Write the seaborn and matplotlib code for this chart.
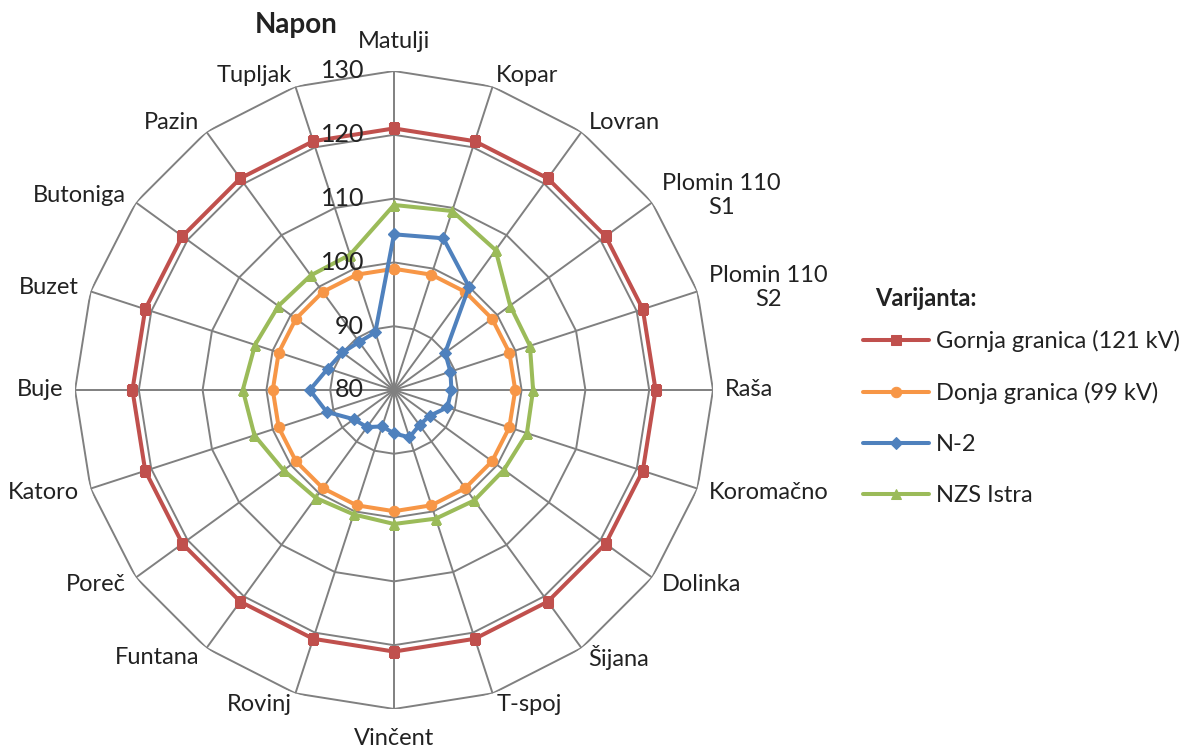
import numpy as np
import pandas as pd
import matplotlib
matplotlib.use("Agg")
import matplotlib.pyplot as plt
import seaborn as sns

categories = ["Matulji", "Kopar", "Lovran", "Plomin 110\nS1", "Plomin 110\nS2", "Raša",
              "Koromačno", "Dolinka", "Šijana", "T-spoj", "Vinčent", "Rovinj", "Funtana",
              "Poreč", "Katoro", "Buje", "Buzet", "Butoniga", "Pazin", "Tupljak"]
gornja = [121, 121, 121, 121, 121, 121, 121, 121, 121, 121,
          121, 121, 121, 121, 121, 121, 121, 121, 121, 121]
donja = [99, 99, 99, 99, 99, 99, 99, 99, 99, 99,
         99, 99, 99, 99, 99, 99, 99, 99, 99, 99]
n2 = [104.4, 105.0, 100.0, 89.9, 89.3, 89.0, 88.8, 86.9, 86.8, 87.8,
      86.8, 86.0, 87.2, 87.8, 91.1, 93.2, 90.9, 90.0, 89.3, 89.5]
nzs = [109.0, 109.5, 107.1, 102.5, 102.4, 101.8, 101.9, 101.3, 101.4, 101.2,
       101.0, 100.5, 100.9, 101.4, 103.0, 103.7, 102.9, 102.4, 102.2, 102.3]
series_names = ["Gornja granica (121 kV)", "Donja granica (99 kV)", "N-2", "NZS Istra"]
radial_ticks = [80, 90, 100, 110, 120, 130]

sns.set_theme(style="white")
plt.rcParams['font.family'] = ['Lato', 'DejaVu Sans']

fig = plt.figure(figsize=(11.91, 7.47), dpi=100)
ax = fig.add_axes([0.06297, 0.05087, 0.5357, 0.8541], projection='polar')
ax.set_theta_zero_location('N')
ax.set_theta_direction(-1)
n = len(categories)
theta = np.arange(n) * 2 * np.pi / n
theta_c = np.append(theta, 2 * np.pi)
ax.set_ylim(radial_ticks[0], radial_ticks[-1])
ax.set_xticks(theta)
ax.set_xticklabels([])
ax.set_yticks([])
grid_col = '#808080'
ax.xaxis.grid(True, color=grid_col, lw=1.4)
ax.spines['polar'].set_visible(False)
for v in radial_ticks[1:]:
    ax.plot(theta_c, [v] * (n + 1), color=grid_col, lw=1.4, zorder=1)

styles = [("#C0504D", "s", 7.5), ("#F79646", "o", 7.5), ("#4F81BD", "D", 6), ("#9BBB59", "^", 7.5)]
for name, vals, (c, m, ms) in zip(series_names, [gornja, donja, n2, nzs], styles):
    df = pd.DataFrame({"theta": theta_c, "v": list(vals) + [vals[0]]})
    sns.lineplot(data=df, x="theta", y="v", sort=False, estimator=None, color=c,
                 marker=m, markersize=ms, markeredgecolor=c, linewidth=2.9,
                 label=name, ax=ax, zorder=3)
ax.set_xlabel('')
ax.set_ylabel('')
handles, labels = ax.get_legend_handles_labels()
if ax.get_legend() is not None:
    ax.get_legend().remove()

txt_col = '#222222'
for t, lab in zip(theta, categories):
    s, c = np.sin(t), np.cos(t)
    if abs(s) < 0.1:
        d = 29
        ha = 'center'
    else:
        d = 12
        ha = 'left' if s > 0 else 'right'
    ax.annotate(lab, xy=(t, radial_ticks[-1]), xytext=(d * s, d * c), textcoords='offset pixels',
                ha=ha, va='center', ma='center', fontsize=17, color=txt_col,
                annotation_clip=False)

for v in radial_ticks:
    ax.annotate(str(v), xy=(0, v), xytext=(-30, 0), textcoords='offset pixels',
                ha='right', va='center', fontsize=18, color=txt_col, annotation_clip=False)

fig.text(296 / 1191, 1 - 25 / 747, "Napon", ha='center', va='center',
         fontweight='bold', fontsize=20, color=txt_col)

fig.text(875 / 1191, 1 - 298 / 747, "Varijanta:", ha='left', va='center',
         fontweight='bold', fontsize=17, color=txt_col)

leg = fig.legend(handles, labels, loc='upper left',
                 bbox_to_anchor=(863 / 1191, 1 - 330 / 747), frameon=False,
                 handlelength=2.8, handletextpad=0.3,
                 labelspacing=1.27, borderpad=0, borderaxespad=0,
                 prop={'size': 17})
for txt in leg.get_texts():
    txt.set_color(txt_col)

fig.savefig("out.png", dpi=100)
